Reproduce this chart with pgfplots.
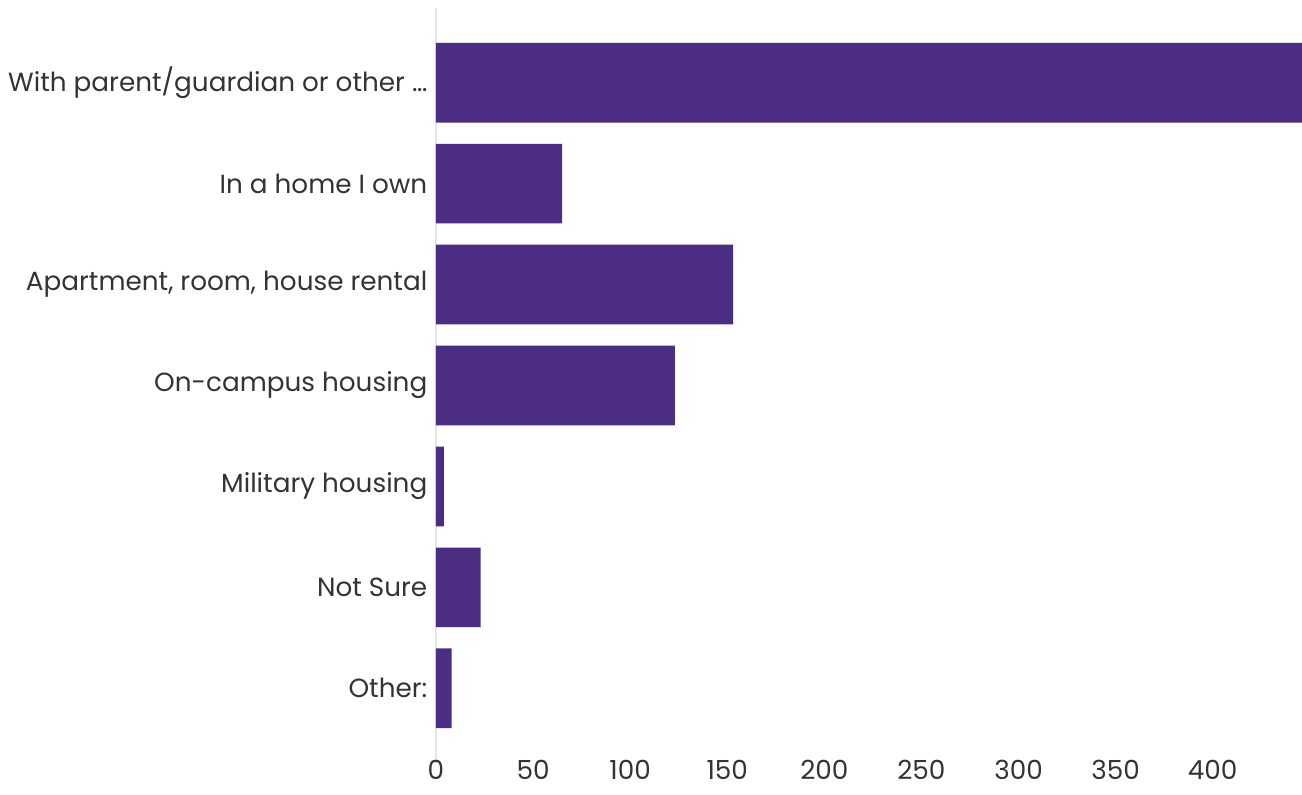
\documentclass[border=0pt]{standalone}
\usepackage{pgfplots}
\pgfplotsset{compat=1.18}
\usepackage{fontspec}
\setmainfont{Poppins}
\usetikzlibrary{calc}
\definecolor{barpurple}{HTML}{4B2E83}
\definecolor{txt}{HTML}{333333}
\definecolor{axgray}{HTML}{E6E6E6}
\begin{document}
\begin{tikzpicture}
\begin{axis}[
  name=ax,
  scale only axis,
  width=649.5pt, height=566.25pt,
  xbar, bar width=0.79,
  xmin=0, xmax=446,
  ymin=-0.74, ymax=6.74,
  y dir=reverse,
  ytick={0,...,6},
  yticklabels={With parent/guardian or other \dots, In a home I own, {Apartment, room, house rental}, On-campus housing, Military housing, Not Sure, Other:},
  xtick={0,50,...,400},
  major tick length=0pt,
  separate axis lines,
  axis x line*=bottom,
  axis y line*=left,
  x axis line style={draw=none},
  y axis line style={draw=axgray, line width=1.5pt},
  tick label style={font=\fontsize{19.7pt}{22pt}\selectfont, text=txt},
  /pgf/number format/assume math mode=true,
  yticklabel style={xshift=-3pt},
  xticklabel style={yshift=3pt, inner sep=1pt},
  clip=true,
]
\addplot[fill=barpurple, draw=none] coordinates {
(446,0) (65,1) (153,2) (123,3) (4,4) (23,5) (8,6)};
\end{axis}
\pgfresetboundingbox
\useasboundingbox ($(ax.south west)+(-327pt,-24pt)$) rectangle ($(ax.north east)+(0,6pt)$);
\end{tikzpicture}
\end{document}
